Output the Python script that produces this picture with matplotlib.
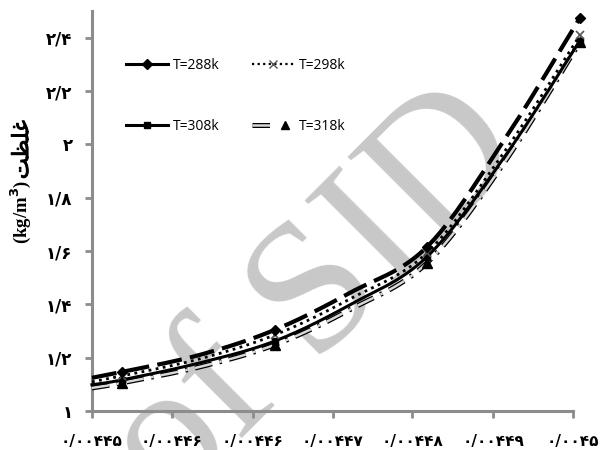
import numpy as np
import matplotlib
matplotlib.use('Agg')
import matplotlib.pyplot as plt
import matplotlib.patheffects as pe
from matplotlib.lines import Line2D
from matplotlib.legend_handler import HandlerTuple

# x positions of the readings
x_vals = [0.00445, 0.0044531, 0.0044612, 0.004469, 0.0044768, 0.0044848, 0.0044929, 0.0045007]
marker_idx = [1, 3, 5, 7]

t288 = [1.124, 1.146, 1.210, 1.304, 1.443, 1.615, 2.020, 2.475]
t298 = [1.109, 1.131, 1.195, 1.285, 1.420, 1.593, 1.975, 2.410]
t308 = [1.098, 1.116, 1.180, 1.262, 1.398, 1.578, 1.955, 2.390]
t318 = [1.086, 1.105, 1.165, 1.248, 1.380, 1.555, 1.935, 2.385]

x_ticks = [0.00445, 0.0044583, 0.0044667, 0.004475, 0.0044833, 0.0044917, 0.0045]
x_labels = ['۰/۰۰۴۴۵', '۰/۰۰۴۴۶', '۰/۰۰۴۴۶', '۰/۰۰۴۴۷', '۰/۰۰۴۴۸', '۰/۰۰۴۴۹', '۰/۰۰۴۵']
y_ticks = [1.0, 1.2, 1.4, 1.6, 1.8, 2.0, 2.2, 2.4]
y_labels = ['۱', '۱/۲', '۱/۴', '۱/۶', '۱/۸', '۲', '۲/۲', '۲/۴']

XMIN, XMAX = 0.00445, 0.0045
YMIN, YMAX = 1.0, 2.5


def smooth(x, y, n=30):
    # Bezier smoothing like a spreadsheet "smoothed line", done in axis-normalised space
    px = (np.asarray(x) - XMIN) / (XMAX - XMIN)
    py = (np.asarray(y) - YMIN) / (YMAX - YMIN) * 0.75
    pts = np.column_stack([px, py])
    out = []
    for i in range(len(pts) - 1):
        p0 = pts[i - 1] if i > 0 else pts[i]
        p1, p2 = pts[i], pts[i + 1]
        p3 = pts[i + 2] if i + 2 < len(pts) else pts[i + 1]
        c1 = p1 + (p2 - p0) / 6
        c2 = p2 - (p3 - p1) / 6
        t = np.linspace(0, 1, n)[:, None]
        seg = (1 - t) ** 3 * p1 + 3 * (1 - t) ** 2 * t * c1 + 3 * (1 - t) * t ** 2 * c2 + t ** 3 * p2
        out.append(seg if i == 0 else seg[1:])
    c = np.vstack(out)
    return c[:, 0] * (XMAX - XMIN) + XMIN, c[:, 1] / 0.75 * (YMAX - YMIN) + YMIN


fig = plt.figure(figsize=(6.13, 4.5), dpi=100)
ax = fig.add_axes([0.150, 0.087, 0.785, 0.888])
ax.set_zorder(2)
ax.set_facecolor('none')

# watermark behind the plot
fig.text(0.517, 0.335, 'of SID', fontsize=135, color='#c8c8c8', family='Liberation Serif',
         rotation=45, ha='center', va='center', zorder=1)

hollow = [pe.Stroke(linewidth=3.6, foreground='black'), pe.Normal()]

sx, sy = smooth(x_vals, t318)
ax.plot(sx, sy, color='#d8d8d8', lw=1.8, dashes=(7, 3, 1, 3), path_effects=hollow, clip_on=False, zorder=3)
sx, sy = smooth(x_vals, t308)
ax.plot(sx, sy, color='black', lw=2.2, clip_on=False, zorder=4)
sx, sy = smooth(x_vals, t298)
ax.plot(sx, sy, color='black', lw=2.0, ls=(0, (1, 1.6)), clip_on=False, zorder=5)
sx, sy = smooth(x_vals, t288)
ax.plot(sx, sy, color='black', lw=3.0, dashes=(6, 2), clip_on=False, zorder=6)

mx = [x_vals[i] for i in marker_idx]
ax.plot(mx, [t318[i] for i in marker_idx], ls='none', marker='^', ms=6.5, color='black', clip_on=False, zorder=7)
ax.plot(mx, [t308[i] for i in marker_idx], ls='none', marker='s', ms=4.5, color='black', clip_on=False, zorder=7)
ax.plot(mx, [t298[i] for i in marker_idx], ls='none', marker='x', ms=6, mew=1.2, color='#555555', clip_on=False, zorder=7)
ax.plot(mx, [t288[i] for i in marker_idx], ls='none', marker='D', ms=5.5, color='black', clip_on=False, zorder=8)

ax.set_xlim(XMIN, XMAX)
ax.set_ylim(YMIN, YMAX)
ax.set_xticks(x_ticks)
ax.set_xticklabels(x_labels, fontsize=11, fontweight='bold', family='DejaVu Sans')
ax.set_yticks(y_ticks)
ax.set_yticklabels(y_labels, fontsize=12, fontweight='bold', family='DejaVu Sans')

for s in ['top', 'right']:
    ax.spines[s].set_visible(False)
for s in ['left', 'bottom']:
    ax.spines[s].set_color('#8c8c8c')
    ax.spines[s].set_linewidth(2.2)
ax.tick_params(axis='both', color='#8c8c8c', width=2, length=5, direction='out')
ax.tick_params(axis='y', pad=9)
ax.tick_params(axis='x', pad=12)

# axis title: unit in bold serif, Persian word (pre-shaped) above it
fig.text(0.034, 0.529, '(kg/m$^\\mathbf{3}$)', rotation=90, ha='center', va='center',
         fontsize=13.5, fontweight='bold', family='Liberation Serif')
fig.text(0.036, 0.667, 'ﺖﻈﻠﻏ', rotation=90, ha='center', va='center',
         fontsize=16, family='DejaVu Sans',
         path_effects=[pe.withStroke(linewidth=0.7, foreground='black')])

handles = [
    Line2D([], [], color='black', lw=2.2, marker='D', ms=5),
    Line2D([], [], color='black', lw=2.2, marker='s', ms=4.5),
    Line2D([], [], color='black', lw=1.6, ls=(0, (1, 1.5)), marker='x', ms=6, mec='#555555'),
    (Line2D([], [], color='#d8d8d8', lw=1.8, dashes=(7, 3, 1, 3), path_effects=hollow),
     Line2D([], [], ls='none', marker='^', ms=6, color='black')),
]
labels = ['T=288k', 'T=308k', 'T=298k', 'T=318k']
ax.legend(handles, labels, ncol=2, frameon=False, loc='upper left',
          bbox_to_anchor=(0.045, 0.915), prop={'family': 'Open Sans', 'size': 10},
          handlelength=3.0, handletextpad=0.4, labelspacing=3.3, columnspacing=2.3,
          handler_map={tuple: HandlerTuple(ndivide=None)})

fig.savefig('out.png', dpi=100)
